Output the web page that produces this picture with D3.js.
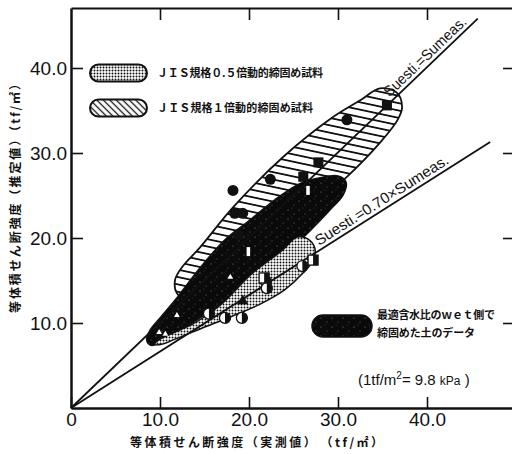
<!DOCTYPE html>
<html><head><meta charset="utf-8">
<script src="https://cdn.jsdelivr.net/npm/d3@7"></script>
<style>body{margin:0;background:#fff}svg{display:block}</style>
</head><body><script>
// ---------- data ----------
const xTicks = [0, 10, 20, 30, 40];
const yTicks = [10, 20, 30, 40];
const refLines = [
  {id: "eq",  x: 45.7, y: 45.8, label: "Suesti.=Sumeas.",      labelX: 36.1, len: 108},
  {id: "r70", x: 47.1, y: 31.3, label: "Suesti.=0.70×Sumeas.", labelX: 28.1, len: 155}
];
// region outlines (tf/m2)
const hatchRegion = [[11.9,13.5],[11.7,15.1],[12.5,16.6],[14.5,18.9],[18.2,23.6],[23.8,29.5],[29.4,34.2],[32.5,36.2],[34.7,37.6],[36.6,37.1],[37.2,35.4],[36.7,33.9],[34.7,31.2],[31.0,27.2],[28.0,24.5],[20.1,18.0],[14.5,13.9],[12.8,12.9]];
const wetRegion = [[8.5,8.0],[8.9,9.2],[10.0,10.6],[12.0,13.1],[14.5,16.5],[17.3,19.8],[20.1,22.1],[22.9,24.5],[25.7,26.4],[28.0,27.1],[30.0,27.3],[30.9,26.6],[30.6,25.1],[29.1,23.3],[26.9,20.9],[24.6,18.6],[21.2,15.6],[17.9,12.9],[14.5,10.6],[11.7,8.7],[10.0,7.6],[8.9,7.4]];
const dotRegion = [[25.4,20.1],[26.6,19.9],[27.4,18.8],[27.2,17.4],[26.1,15.9],[24.0,13.9],[21.2,12.2],[18.1,10.8],[14.5,9.3],[11.7,8.1],[10.2,7.5],[9.4,7.5],[10.0,8.1],[13.7,9.9],[17.0,12.3],[20.1,15.6],[23.8,18.6]];
// markers
const filledCircles = [[18.2,25.6],[18.4,22.9],[19.3,22.9],[18.8,20.4],[22.4,26.9],[31.0,33.9]];
const filledSquares = [[35.5,35.6],[27.8,28.9],[26.1,27.2]];
const halfCircles = [[15.5,11.1],[17.3,10.6],[19.2,10.6],[21.9,14.9],[22.0,14.1],[26.0,16.7]];
const halfSquares = [[27.2,17.4],[21.7,15.3]];
const filledTriangles = [[19.3,12.6]];
const whiteBars = [[19.9,18.4],[26.6,25.6]];
const whiteTriangles = [[17.9,15.4],[11.9,10.9],[9.9,8.9],[10.6,8.7]];
// texts
const legendLabels = ["ＪＩＳ規格０.５倍動的締固め試料", "ＪＩＳ規格１倍動的締固め試料"];
const wetLabels = ["最適含水比のｗｅｔ側で", "締固めた土のデータ"];
const xTitle = "等体積せん断強度（実測値）　（tf/㎡）";
const yTitle = "等体積せん断強度（推定値）（tf/㎡）";

// ---------- drawing ----------
const W = 512, H = 454, INK = "#111";
const x = d3.scaleLinear().domain([0, 50]).range([71, 516]);
const y = d3.scaleLinear().domain([0, 47.06]).range([408, 8]);
const svg = d3.select("body").append("svg").attr("width", W).attr("height", H);
svg.append("rect").attr("width", W).attr("height", H).attr("fill", "#fff");

const defs = svg.append("defs");
const pd = defs.append("pattern").attr("id", "dots").attr("patternUnits", "userSpaceOnUse").attr("width", 3).attr("height", 3);
pd.append("rect").attr("width", 3).attr("height", 3).attr("fill", "#fff");
pd.append("circle").attr("cx", 1.5).attr("cy", 1.5).attr("r", 1.0).attr("fill", INK);
const ph = defs.append("pattern").attr("id", "hatchH").attr("patternUnits", "userSpaceOnUse").attr("width", 10).attr("height", 7.2).attr("patternTransform", "rotate(12)");
ph.append("rect").attr("width", 10).attr("height", 7.2).attr("fill", "#fff");
ph.append("line").attr("x1", 0).attr("x2", 10).attr("y1", 3.6).attr("y2", 3.6).attr("stroke", INK).attr("stroke-width", 1.8);
const pl = defs.append("pattern").attr("id", "hatchD").attr("patternUnits", "userSpaceOnUse").attr("width", 10).attr("height", 4.6).attr("patternTransform", "rotate(45)");
pl.append("rect").attr("width", 10).attr("height", 4.6).attr("fill", "#fff");
pl.append("line").attr("x1", 0).attr("x2", 10).attr("y1", 2.3).attr("y2", 2.3).attr("stroke", INK).attr("stroke-width", 1.3);
const pb = defs.append("pattern").attr("id", "speck").attr("patternUnits", "userSpaceOnUse").attr("width", 11).attr("height", 9);
pb.append("rect").attr("width", 11).attr("height", 9).attr("fill", "#0a0a0a");
pb.append("circle").attr("cx", 2).attr("cy", 3).attr("r", 0.55).attr("fill", "#888");
pb.append("circle").attr("cx", 8).attr("cy", 7).attr("r", 0.5).attr("fill", "#777");
pb.append("circle").attr("cx", 6).attr("cy", 1).attr("r", 0.4).attr("fill", "#666");

// regions
const area = d3.line().x(d => x(d[0])).y(d => y(d[1])).curve(d3.curveCatmullRomClosed.alpha(0.5));
svg.append("path").attr("d", area(hatchRegion)).attr("fill", "url(#hatchH)").attr("stroke", INK).attr("stroke-width", 1.8);
svg.append("path").attr("d", area(wetRegion)).attr("fill", "url(#speck)").attr("stroke", INK).attr("stroke-width", 1.5);
svg.append("path").attr("d", area(dotRegion)).attr("fill", "url(#dots)").attr("stroke", INK).attr("stroke-width", 1.5);

// reference lines
const ln = d3.line().x(d => x(d[0])).y(d => y(d[1]));
refLines.forEach(r => {
  svg.append("path").attr("d", ln([[0, 0], [r.x, r.y]])).attr("stroke", INK).attr("stroke-width", 1.8).attr("fill", "none");
  const ang = Math.atan2(y(r.y) - y(0), x(r.x) - x(0)) * 180 / Math.PI;
  const ly = r.labelX * r.y / r.x;
  svg.append("text").attr("transform", `translate(${x(r.labelX)},${y(ly)}) rotate(${ang})`)
    .attr("dy", -4).attr("font-family", "Liberation Sans, Arial, sans-serif").attr("font-size", 15)
    .attr("textLength", r.len).attr("lengthAdjust", "spacingAndGlyphs").attr("fill", INK).text(r.label);
});

// markers
svg.append("g").selectAll("circle").data(filledCircles).join("circle")
  .attr("cx", d => x(d[0])).attr("cy", d => y(d[1])).attr("r", 5.5).attr("fill", INK);
svg.append("g").selectAll("rect").data(filledSquares).join("rect")
  .attr("x", d => x(d[0]) - 5).attr("y", d => y(d[1]) - 5).attr("width", 10).attr("height", 10).attr("fill", INK);
const hc = svg.append("g").selectAll("g").data(halfCircles).join("g").attr("transform", d => `translate(${x(d[0])},${y(d[1])})`);
hc.append("circle").attr("r", 5.5).attr("fill", "#fff").attr("stroke", INK).attr("stroke-width", 1.3);
hc.append("path").attr("d", "M0,-5.5A5.5,5.5 0 0 1 0,5.5Z").attr("fill", INK);
const hs = svg.append("g").selectAll("g").data(halfSquares).join("g").attr("transform", d => `translate(${x(d[0])},${y(d[1])})`);
hs.append("rect").attr("x", -5).attr("y", -5).attr("width", 10).attr("height", 10).attr("fill", "#fff").attr("stroke", INK).attr("stroke-width", 1.3);
hs.append("rect").attr("x", 0).attr("y", -5).attr("width", 5).attr("height", 10).attr("fill", INK);
const tri = d3.symbol().type(d3.symbolTriangle).size(55);
svg.append("g").selectAll("path").data(filledTriangles).join("path")
  .attr("transform", d => `translate(${x(d[0])},${y(d[1])})`).attr("d", tri()).attr("fill", INK);
svg.append("g").selectAll("rect").data(whiteBars).join("rect")
  .attr("x", d => x(d[0]) - 1.5).attr("y", d => y(d[1]) - 4.5).attr("width", 3.5).attr("height", 9).attr("fill", "#fff");
const triS = d3.symbol().type(d3.symbolTriangle).size(14);
svg.append("g").selectAll("path").data(whiteTriangles).join("path")
  .attr("transform", d => `translate(${x(d[0])},${y(d[1])})`).attr("d", triS()).attr("fill", "#fff");

// axes
const fmt = d => d === 0 ? "0" : d.toFixed(1);
const styleAxis = (g, w) => {
  g.select(".domain").attr("stroke", INK).attr("stroke-width", w);
  g.selectAll(".tick line").attr("stroke", INK).attr("stroke-width", 1.6);
  g.selectAll(".tick text").attr("fill", INK).attr("font-family", "Liberation Sans, Arial, sans-serif").attr("font-size", 19);
};
svg.append("g").attr("transform", "translate(0,408)")
  .call(d3.axisBottom(x).tickValues(xTicks).tickSizeInner(-11).tickSizeOuter(0).tickPadding(5).tickFormat(fmt))
  .call(g => styleAxis(g, 2.5));
svg.append("g").attr("transform", "translate(71,0)")
  .call(d3.axisLeft(y).tickValues(yTicks).tickSizeInner(-12).tickSizeOuter(0).tickPadding(4).tickFormat(fmt))
  .call(g => styleAxis(g, 2.5));
svg.append("g").attr("transform", "translate(0,8)")
  .call(d3.axisTop(x).tickValues(xTicks.slice(1)).tickSizeInner(-12).tickSizeOuter(0).tickFormat(""))
  .call(g => styleAxis(g, 2));
svg.append("g").attr("transform", "translate(516,0)")
  .call(d3.axisRight(y).tickValues(yTicks).tickSizeInner(-13).tickSizeOuter(0).tickFormat(""))
  .call(g => styleAxis(g, 2));

// axis titles
const jp = "Noto Sans CJK JP, sans-serif";
svg.append("text").attr("x", 130).attr("y", 447).attr("font-family", jp).attr("font-size", 12).attr("font-weight", "bold")
  .attr("textLength", 253).attr("lengthAdjust", "spacing").attr("fill", INK).text(xTitle);
svg.append("text").attr("transform", "translate(20,313) rotate(-90)").attr("font-family", jp).attr("font-size", 12).attr("font-weight", "bold")
  .attr("textLength", 235).attr("lengthAdjust", "spacing").attr("fill", INK).text(yTitle);

// legend
const legFills = ["url(#dots)", "url(#hatchD)"];
const legY = [73, 108], legLen = [166, 156];
legendLabels.forEach((t, i) => {
  svg.append("rect").attr("x", 90).attr("y", legY[i] - 8.5).attr("width", 57).attr("height", 17).attr("rx", 8.5)
    .attr("fill", legFills[i]).attr("stroke", INK).attr("stroke-width", 2);
  svg.append("text").attr("x", 157).attr("y", legY[i] + 4).attr("font-family", jp).attr("font-size", 11).attr("font-weight", "bold")
    .attr("textLength", legLen[i]).attr("lengthAdjust", "spacing").attr("fill", INK).text(t);
});
svg.append("rect").attr("x", 312).attr("y", 315).attr("width", 60).attr("height", 22).attr("rx", 11)
  .attr("fill", "url(#speck)").attr("stroke", INK).attr("stroke-width", 1.5);
const wetLen = [118, 98];
wetLabels.forEach((t, i) => {
  svg.append("text").attr("x", 377).attr("y", 319 + i * 18).attr("font-family", jp).attr("font-size", 11).attr("font-weight", "bold")
    .attr("textLength", wetLen[i]).attr("lengthAdjust", "spacing").attr("fill", INK).text(t);
});
const unit = svg.append("text").attr("x", 358).attr("y", 385).attr("font-family", "Liberation Sans, Arial, sans-serif").attr("font-size", 15).attr("fill", INK);
unit.append("tspan").text("(1tf/m");
unit.append("tspan").attr("font-size", 10).attr("dy", -6).text("2");
unit.append("tspan").attr("dy", 6).text("= 9.8 ");
unit.append("tspan").attr("font-size", 12).text("kPa");
unit.append("tspan").text(" )");
</script></body></html>
